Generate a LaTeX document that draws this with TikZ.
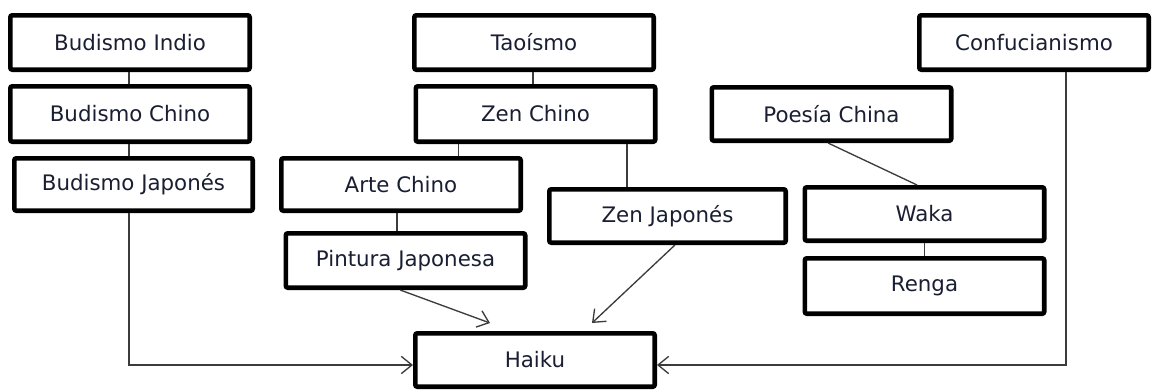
\documentclass[tikz,border=0pt]{standalone}
\usepackage{fontspec}
\setmainfont{DejaVu Sans}
\usetikzlibrary{arrows.meta}
\definecolor{txt}{RGB}{25,30,50}
\definecolor{conn}{RGB}{60,60,60}
\begin{document}
\begin{tikzpicture}[x=0.75pt,y=-0.75pt,
  box/.style={draw=black, line width=3.5pt, rounded corners=1.5pt, fill=white,
    minimum width=179.5pt, minimum height=40.75pt, inner sep=0pt,
    font=\fontsize{16}{19}\selectfont, text=txt},
  link/.style={draw=conn, line width=1pt},
  arr/.style={link, -{Straight Barb[length=8pt,width=13pt]}}]
\useasboundingbox[fill=white] (0,0) rectangle (1154,390);

\node[box] (bi) at (130,42.5) {Budismo Indio};
\node[box, minimum height=41.5pt] (bc) at (130,114) {Budismo Chino};
\node[box, minimum width=178.75pt, minimum height=39.25pt] (bj) at (133.5,184.5) {Budismo Japonés};
\node[box] (ta) at (534,42.5) {Taoísmo};
\node[box, minimum height=41.5pt] (zc) at (535.5,114) {Zen Chino};
\node[box, minimum height=39.25pt] (ac) at (401,184.5) {Arte Chino};
\node[box] (pj) at (405.5,260.5) {Pintura Japonesa};
\node[box, minimum width=177.25pt, minimum height=40pt] (zj) at (667.5,216) {Zen Japonés};
\node[box, minimum height=40pt] (pc) at (831.5,114) {Poesía China};
\node[box, minimum height=40pt] (wa) at (924.5,214) {Waka};
\node[box, minimum height=41.5pt] (re) at (924.5,286) {Renga};
\node[box, minimum width=172pt] (co) at (1034,42.5) {Confucianismo};
\node[box, minimum height=40pt] (ha) at (535,360) {Haiku};

% plain links
\draw[link] ([xshift=-0.75pt]bi.south) -- ([xshift=-0.75pt]bi.south |- bc.north);
\draw[link] ([xshift=-0.75pt]bc.south) -- ([xshift=-0.75pt]bc.south |- bj.north);
\draw[link] ([xshift=-0.75pt]ta.south) -- ([xshift=-0.75pt]ta.south |- zc.north);
\draw[link] ([xshift=-58pt]zc.south) -- ([xshift=-58pt]zc.south |- ac.north);
\draw[link] ([xshift=-3pt]ac.south) -- ([xshift=-3pt]ac.south |- pj.north);
\draw[link] ([xshift=68.6pt]zc.south) -- ([xshift=68.6pt]zc.south |- zj.north);
\draw[link] ([xshift=-2.6pt]pc.south) -- ([xshift=-5.6pt]wa.north);
\draw[link] (wa.south) -- (wa.south |- re.north);

% arrows into Haiku
\draw[arr] ([xshift=-3.4pt]bj.south) |- ([yshift=-3.75pt]ha.west);
\draw[arr] ([xshift=24pt]co.south) |- ([yshift=-3.75pt]ha.east);
\draw[arr] ([xshift=-4pt]pj.south) -- ([xshift=-33.75pt,yshift=6pt]ha.north);
\draw[arr] ([xshift=5.6pt]zj.south) -- ([xshift=42.75pt,yshift=6pt]ha.north);
\end{tikzpicture}
\end{document}
